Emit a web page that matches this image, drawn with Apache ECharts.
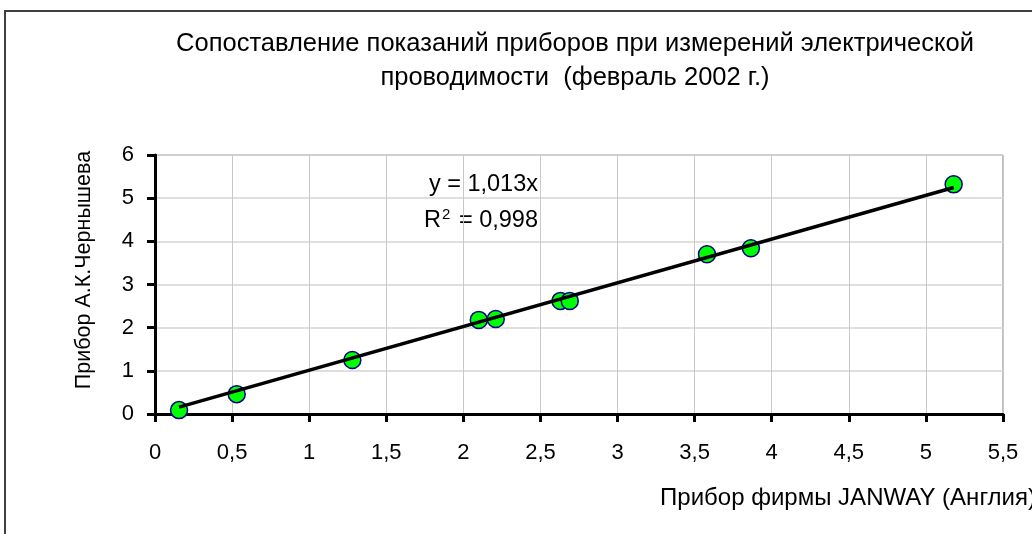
<!DOCTYPE html>
<html><head><meta charset="utf-8">
<script src="https://cdn.jsdelivr.net/npm/echarts@6/dist/echarts.min.js"></script>
<style>html,body{margin:0;padding:0;background:#fff}#c{width:1032px;height:534px}</style>
</head><body><div id="c"></div>
<script>
var xValues = [0.156, 0.53, 1.28, 2.10, 2.21, 2.63, 2.69, 3.58, 3.865, 5.18];
var yValues = [0.09, 0.46, 1.25, 2.18, 2.20, 2.62, 2.62, 3.70, 3.84, 5.32];
var slope = 1.013;
var r2Label = '0,998';
var titleLines = ['Сопоставление показаний приборов при измерений электрической', 'проводимости  (февраль 2002 г.)'];
var xName = 'Прибор фирмы JANWAY (Англия)';
var yName = 'Прибор А.К.Чернышева';

var points = xValues.map(function (x, i) { return [x, yValues[i]]; });
var xmin = Math.min.apply(null, xValues), xmax = Math.max.apply(null, xValues);
var trend = [[xmin, slope * xmin], [xmax, slope * xmax]];
var fmt = function (v) { return String(v).replace('.', ','); };
var FONT = 'Liberation Sans, Arial, sans-serif';

var chart = echarts.init(document.getElementById('c'));
chart.setOption({
  animation: false,
  backgroundColor: '#fff',
  grid: { left: 155, right: 29, top: 155, bottom: 120, show: true, borderColor: '#808080', borderWidth: 1 },
  xAxis: {
    type: 'value', min: 0, max: 5.5, interval: 0.5,
    axisLine: { lineStyle: { color: '#000', width: 3 } },
    axisTick: { length: 8, lineStyle: { color: '#000', width: 3 } },
    axisLabel: { formatter: fmt, color: '#000', fontSize: 22, fontFamily: FONT, margin: 28 },
    splitLine: { lineStyle: { color: '#c8c8c8', width: 1 } }
  },
  yAxis: {
    type: 'value', min: 0, max: 6, interval: 1,
    axisLine: { lineStyle: { color: '#000', width: 3 } },
    axisTick: { length: 8, lineStyle: { color: '#000', width: 3 } },
    axisLabel: { formatter: fmt, color: '#000', fontSize: 22, fontFamily: FONT, margin: 21 },
    splitLine: { lineStyle: { color: '#d4d4d4', width: 1.5 } }
  },
  graphic: [
    { type: 'rect', shape: { x: 5, y: 11, width: 1100, height: 600 }, style: { fill: 'none', stroke: '#404040', lineWidth: 2 }, z: -1 },
    { type: 'text', x: 575, y: 44, style: { text: titleLines[0], fontSize: 25.5, fontFamily: FONT, fill: '#000', align: 'center', verticalAlign: 'middle' } },
    { type: 'text', x: 575, y: 78, style: { text: titleLines[1], fontSize: 25.5, fontFamily: FONT, fill: '#000', align: 'center', verticalAlign: 'middle' } },
    { type: 'text', x: 84, y: 270, rotation: Math.PI / 2, style: { text: yName, fontSize: 21.5, fontFamily: FONT, fill: '#000', align: 'center', verticalAlign: 'middle' } },
    { type: 'text', x: 1036, y: 498, style: { text: xName, fontSize: 24, fontFamily: FONT, fill: '#000', align: 'right', verticalAlign: 'middle' } },
    { type: 'text', x: 538, y: 185, style: { text: 'y = ' + fmt(slope) + 'x', fontSize: 23.5, fontFamily: FONT, fill: '#000', align: 'right', verticalAlign: 'middle' } },
    { type: 'text', x: 538, y: 221, style: { rich: { b: { fontSize: 23.5, fontFamily: FONT, color: '#000' }, s: { fontSize: 15, fontFamily: FONT, color: '#000', verticalAlign: 'top', padding: [0, 2, 12, 1] } }, text: '{b|R}{s|2}{b| = ' + r2Label + '}', align: 'right', verticalAlign: 'middle' } }
  ],
  series: [
    { type: 'line', data: trend, symbol: 'none', lineStyle: { color: '#000', width: 3.5 }, z: 3 },
    { type: 'scatter', data: points, symbol: 'circle', symbolSize: 17, itemStyle: { color: '#00ff00', borderColor: '#00008b', borderWidth: 1.5, opacity: 1 }, z: 2 }
  ]
});
</script></body></html>
